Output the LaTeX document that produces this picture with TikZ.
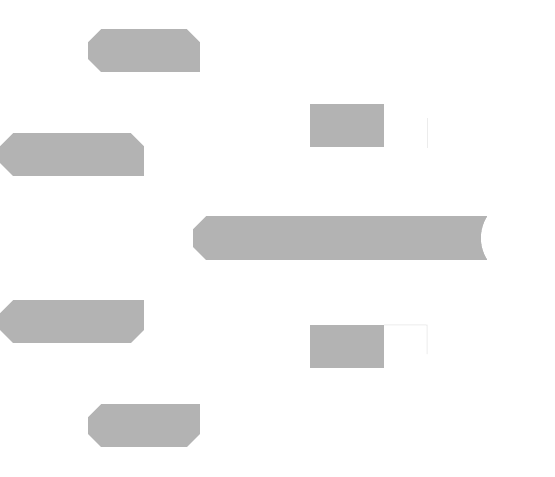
\documentclass[tikz,border=0pt]{standalone}
\definecolor{slab}{HTML}{B3B3B3}
\definecolor{faint}{HTML}{ECECEC}

\tikzset{
  tab/.style={rectangle, fill=slab, draw=none, inner sep=0pt,
    minimum height=43pt,
    path picture={
      \foreach \corner/\dx/\dy in {#1}
        \fill[white] (path picture bounding box.\corner) -- ++(\dx,0pt)
          -- ++(-\dx,\dy) -- cycle;
    }},
  block/.style={rectangle, fill=slab, draw=none, inner sep=0pt,
    minimum width=74pt, minimum height=43pt},
  guide/.style={draw=faint, line width=1pt}
}

\begin{document}
\begin{tikzpicture}[x=1pt,y=-1pt]
  \useasboundingbox (0,0) rectangle (555,477);

  % left tabs
  \node[tab={north west/13pt/-13pt, south west/13pt/13pt, north east/-13pt/-13pt},
    minimum width=112pt] (tabA) at (144,50.5) {};
  \node[tab={north west/13pt/-13pt, south west/13pt/13pt, north east/-13pt/-13pt},
    minimum width=144pt] (tabB) at (72,154.5) {};
  \node[tab={north west/13pt/-13pt, south west/13pt/13pt, south east/-13pt/13pt},
    minimum width=144pt] (tabC) at (72,321.5) {};
  \node[tab={north west/13pt/-13pt, south west/13pt/13pt, south east/-13pt/13pt},
    minimum width=112pt] (tabD) at (144,425.5) {};

  % middle bar with its round notch
  \node[tab={north west/13pt/-13pt, south west/13pt/13pt},
    minimum width=294pt, minimum height=44pt] (bar) at (340,238) {};
  \node[circle, fill=white, draw=none, minimum size=80pt, inner sep=0pt] (notch) at (521,238) {};

  % boxes and their faint edges
  \node[block] (boxA) at (347,125.5) {};
  \node[block] (boxB) at (347,346.5) {};
  \coordinate (edgeA1) at (427,118);
  \coordinate (edgeA2) at (427,148);
  \coordinate (edgeB1) at (427,325);
  \coordinate (edgeB2) at (427,354);
  \draw[guide] (edgeA1) -- (edgeA2);
  \draw[guide] (boxB.north east) -- (edgeB1) -- (edgeB2);
\end{tikzpicture}
\end{document}
